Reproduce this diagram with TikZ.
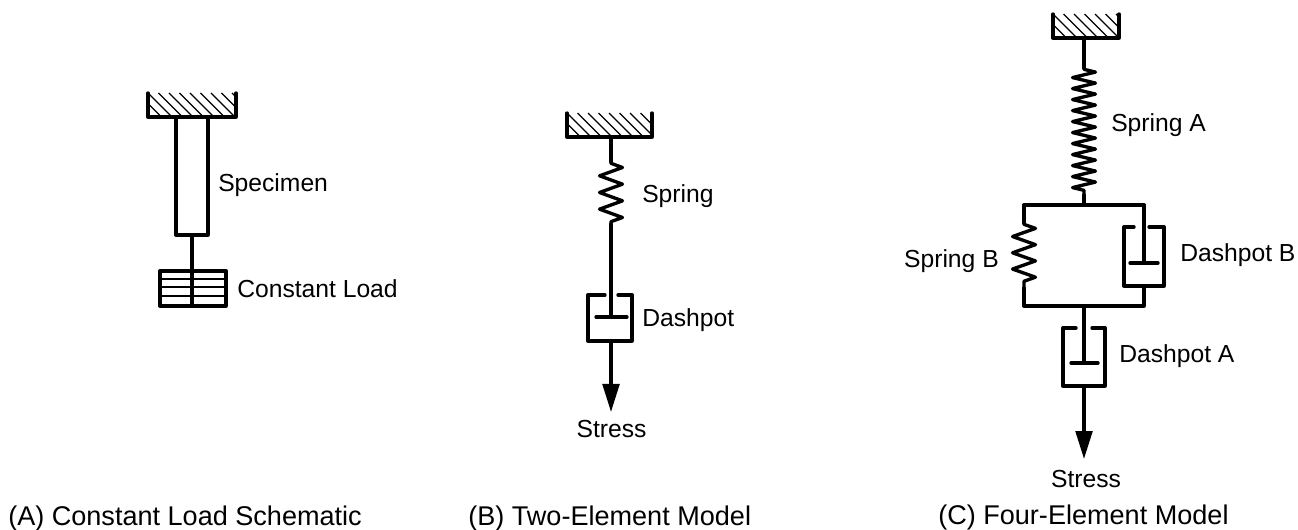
\documentclass[tikz,border=0pt]{standalone}
\usepackage{fontspec}
\setmainfont{Liberation Sans}
\usetikzlibrary{decorations.pathmorphing,arrows.meta}
\tikzset{
  x=0.75pt,y=-0.75pt,
  ln/.style={line width=2.5pt,black,line cap=round,line join=round},
  thin ln/.style={line width=1.6pt,black},
  hatch/.style={line width=1pt,black},
  lab/.style={inner sep=0pt,font=\fontsize{18.5}{20}\selectfont},
  captext/.style={inner sep=0pt,anchor=base west,font=\fontsize{20.3}{22}\selectfont},
  springz/.style={ln,decorate,decoration={zigzag,segment length=#1,amplitude=8.6pt,pre length=1pt,post length=1pt}},
  arrowln/.style={ln,line cap=butt,-{Triangle[length=21pt,width=12.5pt]}}
}
\newcommand{\suppdraw}[3]{%
  \begin{scope}
    \clip (#1,#3) rectangle (#2,#3+24);
    \foreach \k in {-3,...,12} \draw[hatch] (#1+\k*10.5,#3) -- ++(26,26);
  \end{scope}
  \draw[ln] (#1,#3) -- (#1,#3+24) -- (#2,#3+24) -- (#2,#3);
}
\newcommand{\dashp}[9]{%
  \draw[ln] (#5,#3) -- (#1,#3) -- (#1,#4) -- (#2,#4) -- (#2,#3) -- (#6,#3);
  \draw[ln] (#7,#9) -- (#8,#9);
}
\begin{document}
\begin{tikzpicture}
\useasboundingbox (0,0) rectangle (1298,530);
% ---- A
\suppdraw{148}{236}{93}
\coordinate (a1) at (176,117); \coordinate (a2) at (208,235);
\draw[ln] (a1) rectangle (a2);
\coordinate (arod) at (192,235); \coordinate (awb) at (192,306);
\draw[ln] (arod) -- (awb);
\draw[ln] (160,271) rectangle (226,306);
\foreach \yy in {279,287,296} \draw[thin ln] (160,\yy) -- (226,\yy);
\node[lab,anchor=base west] (specimen) at (218,192) {Specimen};
\node[lab,anchor=base west] (load) at (237,298) {Constant Load};
\node[captext] (capA) at (8,525) {(A) Constant Load Schematic};
% ---- B
\suppdraw{567}{652}{113}
\coordinate (b0) at (611,137); \coordinate (b1) at (611,162); \coordinate (b2) at (611,224);
\coordinate (bp) at (611,317); \coordinate (bb) at (611,341); \coordinate (bt) at (611,412);
\draw[ln] (b0) -- (b1);
\draw[springz=12.5pt] (b1) -- (b2);
\draw[ln] (b2) -- (bp);
\dashp{588}{632}{295}{341}{605}{618}{596}{627}{317}
\draw[arrowln] (bb) -- (bt);
\node[lab,anchor=base west] (spring) at (642,203) {Spring};
\node[lab,anchor=base west] (dash) at (642,327) {Dashpot};
\node[lab,anchor=base] (stressB) at (611.5,437) {Stress};
\node[captext] (capB) at (468,525) {(B) Two-Element Model};
% ---- C
\suppdraw{1053}{1119}{14}
\coordinate (c0) at (1084,38); \coordinate (c1) at (1084,68); \coordinate (c2) at (1084,195);
\coordinate (c3) at (1084,205); \coordinate (c4) at (1084,306); \coordinate (c5) at (1084,363);
\coordinate (c6) at (1084,386); \coordinate (c7) at (1084,459);
\draw[ln] (c0) -- (c1);
\draw[springz=8.25pt] (c1) -- (c2);
\draw[ln] (c2) -- (c3);
\coordinate (sb1) at (1024,223); \coordinate (sb2) at (1024,288);
\draw[ln] (sb1) -- (1024,205) -- (1144,205) -- (1144,263);
\draw[springz=12.2pt] (sb1) -- (sb2);
\draw[ln] (sb2) -- (1024,306) -- (1144,306) -- (1144,286);
\dashp{1124}{1164}{227}{286}{1134}{1149}{1130}{1158}{263}
\draw[ln] (c4) -- (c5);
\dashp{1063}{1105}{328}{386}{1076}{1092}{1071}{1098}{363}
\draw[arrowln] (c6) -- (c7);
\node[lab,anchor=base west] (springA) at (1111,132) {Spring A};
\node[lab,anchor=base east] (springB) at (999,268) {Spring B};
\node[lab,anchor=base west] (dashB) at (1180,262) {Dashpot B};
\node[lab,anchor=base west] (dashA) at (1119,363) {Dashpot A};
\node[lab,anchor=base] (stressC) at (1086,487) {Stress};
\node[captext] (capC) at (938,524.5) {(C) Four-Element Model};
\end{tikzpicture}
\end{document}
